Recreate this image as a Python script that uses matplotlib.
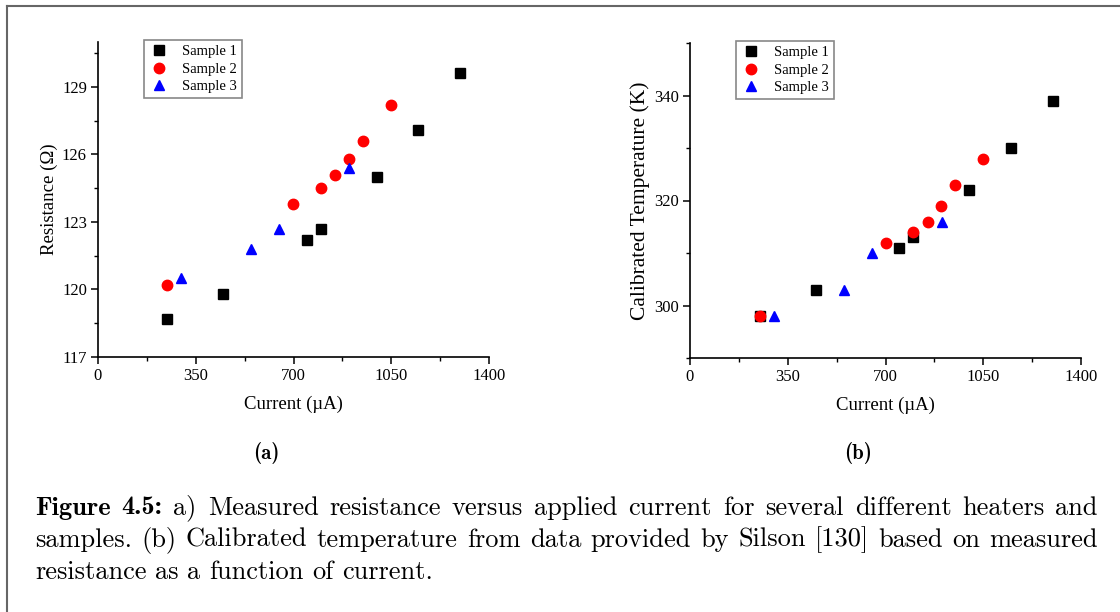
import numpy as np
import matplotlib.pyplot as plt
from matplotlib.lines import Line2D
from matplotlib.ticker import MultipleLocator

# (a) resistance vs current
s1_x = [248, 449, 747, 798, 998, 1147, 1297]
s1_r = [118.7, 119.8, 122.2, 122.7, 125.0, 127.1, 129.6]
s2_x = [248, 698, 798, 848, 899, 948, 1048]
s2_r = [120.2, 123.8, 124.5, 125.1, 125.8, 126.6, 128.2]
s3_x = [298, 549, 648, 899]
s3_r = [120.5, 121.8, 122.7, 125.4]

# (b) calibrated temperature vs current
t1_x = [251, 451, 749, 800, 1000, 1150, 1300]
t1_t = [298, 303, 311, 313, 322, 330, 339]
t2_x = [251, 700, 800, 851, 900, 950, 1050]
t2_t = [298, 312, 314, 316, 319, 323, 328]
t3_x = [302, 551, 652, 901]
t3_t = [298, 303, 310, 316]

caption = [
    [('Figure 4.5:', 'cmb10'), ('a) Measured resistance versus applied current for several different heaters and', 'cmr10')],
    [('samples. (b) Calibrated temperature from data provided by Silson [130] based on measured', 'cmr10')],
    [('resistance as a function of current.', 'cmr10')],
]

W, H = 1120, 612
fig = plt.figure(figsize=(W / 100, H / 100), dpi=100)
plt.rcParams['font.family'] = 'Liberation Serif'


def fr(x0, y0, x1, y1):
    return [x0 / W, 1 - y1 / H, (x1 - x0) / W, (y1 - y0) / H]


def style(ax, ylabel, yticks, ylim, ylsize=13.5):
    ax.set_xlim(0, 1400)
    ax.set_ylim(*ylim)
    ax.set_xticks([0, 350, 700, 1050, 1400])
    ax.set_yticks(yticks)
    ax.xaxis.set_minor_locator(MultipleLocator(175))
    ax.yaxis.set_minor_locator(MultipleLocator((yticks[1] - yticks[0]) / 2))
    for s in ['top', 'right']:
        ax.spines[s].set_visible(False)
    for s in ['left', 'bottom']:
        ax.spines[s].set_linewidth(1.2)
    ax.tick_params(which='major', direction='out', length=5, width=1.1, labelsize=12, pad=3)
    ax.tick_params(which='minor', direction='out', length=3, width=1.0)
    ax.set_xlabel('Current (µA)', fontsize=13.5, labelpad=8)
    ax.set_ylabel(ylabel, fontsize=ylsize, labelpad=3)
    leg = ax.legend(loc='upper left', bbox_to_anchor=(0.1, 1.03), fontsize=10.5,
                    fancybox=False, framealpha=1, edgecolor='#888888',
                    handletextpad=0.9, borderpad=0.35, labelspacing=0.3,
                    handlelength=1.3)
    leg.get_frame().set_linewidth(1.2)


ms = 7.5
ax1 = fig.add_axes(fr(98, 42, 489, 357))
ax1.plot(s1_x, s1_r, 's', color='black', ms=ms * 0.9, label='Sample 1')
ax1.plot(s2_x, s2_r, 'o', color='red', ms=ms, label='Sample 2')
ax1.plot(s3_x, s3_r, '^', color='blue', ms=ms, label='Sample 3')
style(ax1, 'Resistance (Ω)', [117, 120, 123, 126, 129], (117, 131))

ax2 = fig.add_axes(fr(690, 43, 1081, 358))
ax2.plot(t1_x, t1_t, 's', color='black', ms=ms * 0.9, label='Sample 1')
ax2.plot(t2_x, t2_t, 'o', color='red', ms=ms, label='Sample 2')
ax2.plot(t3_x, t3_t, '^', color='blue', ms=ms, label='Sample 3')
style(ax2, 'Calibrated Temperature (K)', [300, 320, 340], (290, 350), ylsize=15.5)
ax2.yaxis.set_minor_locator(MultipleLocator(10))

fig.text(266 / W, 1 - 453 / H, '(a)', family='cmb10', fontsize=15, ha='center', va='center')
fig.text(858 / W, 1 - 453 / H, '(b)', family='cmb10', fontsize=15, ha='center', va='center')

# caption, justified like the LaTeX source
cap = 19
x_left, x_right = 35, 1098
renderer = fig.canvas.get_renderer()


def width(s, fam):
    t = fig.text(0, 0, s, family=fam, fontsize=cap)
    w = t.get_window_extent(renderer).width
    t.remove()
    return w


space = width('a b', 'cmr10') - width('ab', 'cmr10')
for i, line in enumerate(caption):
    y = 1 - (508 + 32 * i) / H
    words = [(w, fam) for chunk, fam in line for w in chunk.split(' ')]
    widths = [width(w, fam) for w, fam in words]
    if i < len(caption) - 1:
        gap = (x_right - x_left - sum(widths)) / (len(words) - 1)
    else:
        gap = space
    x = x_left
    for (w, fam), wd in zip(words, widths):
        fig.text(x / W, y, w, family=fam, fontsize=cap, va='center')
        x += wd + gap

fig.add_artist(Line2D([7 / W, 7 / W], [0, 1 - 6 / H], color='#666666', lw=1.5))
fig.add_artist(Line2D([7 / W, 1], [1 - 6 / H, 1 - 6 / H], color='#666666', lw=1.5))

fig.savefig('out.png', dpi=100)
